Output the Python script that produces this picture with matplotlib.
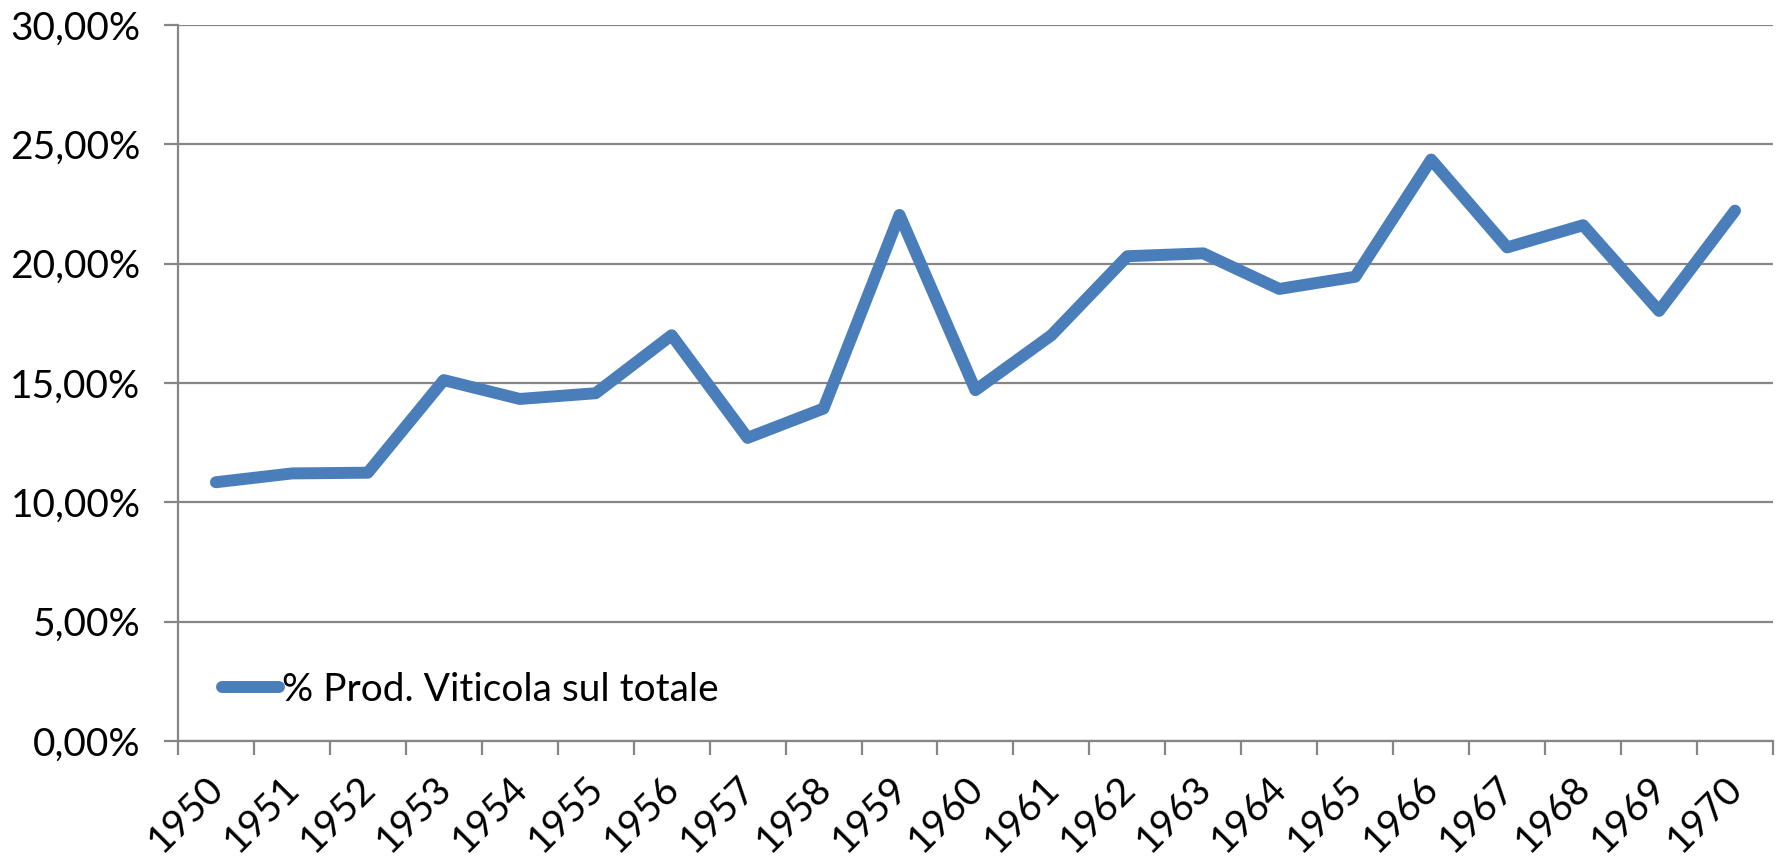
import matplotlib
matplotlib.use("Agg")
import matplotlib.pyplot as plt
from matplotlib.ticker import FuncFormatter, FixedLocator
from matplotlib.transforms import ScaledTranslation

plt.rcParams['font.family'] = ['Lato', 'DejaVu Sans']

years = ['1950', '1951', '1952', '1953', '1954', '1955', '1956', '1957', '1958', '1959',
         '1960', '1961', '1962', '1963', '1964', '1965', '1966', '1967', '1968', '1969', '1970']
share_pct = [10.84, 11.21, 11.24, 15.12, 14.33, 14.57, 17.00, 12.70, 13.93, 22.04,
             14.70, 17.00, 20.31, 20.43, 18.94, 19.45, 24.36, 20.68, 21.61, 18.02, 22.22]
series_label = '% Prod. Viticola sul totale'
y_ticks = [0, 5, 10, 15, 20, 25, 30]

line_color = '#4A7EBB'
axis_color = '#868686'
fs = 28

fig = plt.figure(figsize=(17.81, 8.58), dpi=100)
ax = fig.add_axes([0.0999, 0.1364, 0.8956, 0.8345])

x = list(range(len(years)))
ax.plot(x, share_pct, color=line_color, lw=8.6, solid_capstyle='round',
        solid_joinstyle='round', label=series_label, zorder=3)

ax.set_xlim(-0.5, len(years) - 0.5)
ax.set_ylim(0, 30)

# y axis: percent labels with comma decimals
ax.yaxis.set_major_locator(FixedLocator(y_ticks))
ax.yaxis.set_major_formatter(FuncFormatter(lambda v, p: f"{v:.2f}%".replace('.', ',')))
ax.grid(axis='y', color=axis_color, lw=1.6, zorder=1)
ax.tick_params(axis='y', length=10, width=1.6, color=axis_color, pad=17, labelsize=fs)

# x axis: ticks on category boundaries, labels on category centres
ax.set_xticks([i - 0.5 for i in range(len(years) + 1)])
ax.set_xticklabels([])
ax.set_xticks(x, minor=True)
ax.set_xticklabels(years, minor=True, rotation=45, ha='right', va='center',
                   rotation_mode='anchor', fontsize=fs)
ax.tick_params(axis='x', which='major', length=10, width=1.6, color=axis_color)
ax.tick_params(axis='x', which='minor', length=0, pad=30)
shift = ScaledTranslation(2 / 100, 0, fig.dpi_scale_trans)
for lbl in ax.get_xticklabels(minor=True):
    lbl.set_transform(lbl.get_transform() + shift)

for side in ['top', 'right']:
    ax.spines[side].set_visible(False)
for side in ['left', 'bottom']:
    ax.spines[side].set_color(axis_color)
    ax.spines[side].set_linewidth(1.6)

leg = ax.legend(loc='lower left', bbox_to_anchor=(0.018, 0.025), frameon=False,
                fontsize=fs, handlelength=1.45, handletextpad=0.08, borderaxespad=0)

fig.savefig('out.png', dpi=100)
